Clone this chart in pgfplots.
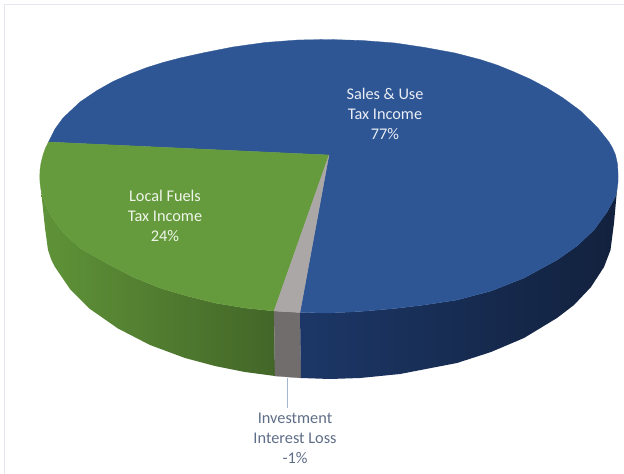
\documentclass[border=0pt]{standalone}
\usepackage{pgfplots}
\pgfplotsset{compat=1.18}
\usepackage{fontspec}
\setmainfont{Carlito}
\definecolor{salesTop}{HTML}{2E5594}
\definecolor{salesSideA}{HTML}{1C3767}
\definecolor{salesSideB}{HTML}{14284B}
\definecolor{salesSideC}{HTML}{12213D}
\definecolor{fuelTop}{HTML}{659B3C}
\definecolor{fuelSideA}{HTML}{5F9338}
\definecolor{fuelSideB}{HTML}{527E31}
\definecolor{fuelSideC}{HTML}{436628}
\definecolor{lossTop}{HTML}{ABA7A7}
\definecolor{lossSide}{HTML}{716D6D}
\definecolor{labelDark}{HTML}{5F6E87}
\definecolor{leaderLine}{HTML}{A6B6D0}
\definecolor{frameLine}{HTML}{E4E8EE}
\begin{document}
\begin{tikzpicture}
\begin{axis}[
  scale only axis, width=624bp, height=474bp,
  xmin=0, xmax=624, ymin=0, ymax=474, y dir=reverse,
  axis lines=none, no markers,
  every axis plot/.append style={line join=round},
]
% page background and thin frame
\addplot[draw=none, fill=white] coordinates {(0,0)(624,0)(624,474)(0,474)} -- cycle;
\addplot[frameLine, line width=1bp] coordinates {(624,4.5)(4,4.5)(4,474)};

% side wall: Local Fuels
\addplot[draw=none, left color=fuelSideA, middle color=fuelSideB, right color=fuelSideC]
 coordinates {(41,190)(43,197)(46,205)(50,214)(56,223)(63,232)(71,240)(80,248)(107,263.5)(133,277)(160,288)(187,296)(215,303)(245,308)(274,311)
 (275,376)(245,372)(215,366)(185,358)(150,345)(118,328.5)(90,309)(70,289)(55,267)(51,259)(48,250)(45,228)} -- cycle;
% side wall: Investment Interest
\addplot[fill=lossSide, draw=lossSide, line width=0.2bp]
 coordinates {(274,311)(300,312.5)(301,378)(275,376)} -- cycle;
% side wall: Sales & Use
\addplot[draw=none, left color=salesSideA, middle color=salesSideB, right color=salesSideC]
 coordinates {(300,312.5)(330,313)(360,311.5)(395,308.5)(424,305)(457,300)(491,291)(524,278)(557,260)(577,246)(594,230)(607,212)(613,201)(615.5,196)(617,190)
 (614,223)(610.5,250)(604,267)(591,287)(574,305)(557,318)(524,338)(491,352)(457,363)(400,374)(360,378)(330,379)(301,378)} -- cycle;

% top face: Sales & Use
\addplot[fill=salesTop, draw=salesTop, line width=0.3bp]
 coordinates {(329,155)(48.5,142)(55,129)(63,118)(80,102)(97,90.5)(113,81.5)(130,74)(147,67.5)(163,62.5)(180,58)(205,52.5)(233,47)(265,42.5)(298,40)(329,39.5)
 (362,40.5)(395,43)(425,47.5)(455,53)(480,59.5)(497,65)(513,71.5)(530,79)(547,88)(563,98)(580,110.5)(597,127)(609,142)(612.5,148)(615.5,155)(617.5,164)(618,173)(618,182)
 (617,190)(615.5,196)(613,201)(607,212)(594,230)(577,246)(557,260)(524,278)(491,291)(457,300)(424,305)(395,308.5)(360,311.5)(330,313)(300,312.5)} -- cycle;
% top face: Local Fuels
\addplot[fill=fuelTop, draw=fuelTop, line width=0.3bp]
 coordinates {(329,155)(48.5,142)(45.5,148)(43,155)(41,163)(40,170)(39.8,177)(40,183)(41,190)(43,197)(46,205)(50,214)(56,223)(63,232)(71,240)(80,248)(107,263.5)(133,277)(160,288)(187,296)(215,303)(245,308)(274,311)} -- cycle;
% top face: Investment Interest
\addplot[fill=lossTop, draw=lossTop, line width=0.2bp]
 coordinates {(329,155)(274,311)(300,312.5)} -- cycle;

% leader line
\addplot[draw=leaderLine, line width=1.5bp] coordinates {(287.5,378)(287.5,408)};

% slice labels
\node[text=white!90!salesTop, align=center, font=\fontsize{16.3bp}{20bp}\selectfont] at (axis cs:385,113.5) {Sales \& Use\\Tax Income\\77\%};
\node[text=white!90!fuelTop, align=center, font=\fontsize{16.3bp}{20bp}\selectfont] at (axis cs:165,215.5) {Local Fuels\\Tax Income\\24\%};
\node[text=labelDark, align=center, font=\fontsize{16.3bp}{20bp}\selectfont] at (axis cs:295,438.5) {Investment\\Interest Loss\\-1\%};
\end{axis}
\end{tikzpicture}
\end{document}
